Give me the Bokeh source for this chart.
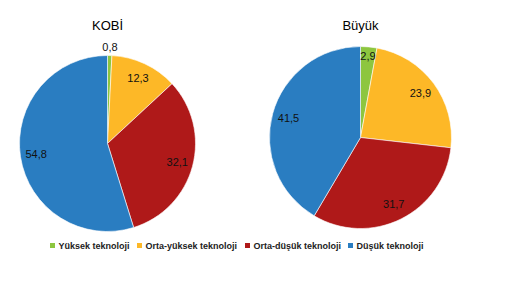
import math
from bokeh.plotting import figure
from bokeh.models import Range1d, ColumnDataSource
from bokeh.core.properties import value
from bokeh.embed import file_html
from bokeh.resources import INLINE

categories = ["Yüksek teknoloji", "Orta-yüksek teknoloji", "Orta-düşük teknoloji", "Düşük teknoloji"]
colors = ["#8DC63F", "#FDB827", "#AF1919", "#2A7DC1"]
kobi_values = [0.8, 12.3, 32.1, 54.8]
buyuk_values = [2.9, 23.9, 31.7, 41.5]
titles = ["KOBİ", "Büyük"]

W, H = 514, 285
FONT = "Liberation Sans"

p = figure(width=W, height=H, x_range=Range1d(0, W), y_range=Range1d(0, H),
           output_backend="svg", toolbar_location=None,
           x_axis_location=None, y_axis_location=None, min_border=0)
p.grid.visible = False
p.outline_line_color = None
p.background_fill_color = "white"

pies = [
    dict(vals=kobi_values, cx=107, cy=H - 143, r=88, title=titles[0], tx=107, ty=H - 25),
    dict(vals=buyuk_values, cx=360, cy=H - 137, r=91, title=titles[1], tx=360, ty=H - 25),
]

for pie in pies:
    vals = pie["vals"]
    total = sum(vals)
    starts, ends, lx, ly, lt = [], [], [], [], []
    cum = 0.0
    for v in vals:
        a0 = math.pi / 2 - 2 * math.pi * cum / total
        a1 = math.pi / 2 - 2 * math.pi * (cum + v) / total
        starts.append(a0)
        ends.append(a1)
        mid = (a0 + a1) / 2
        f = 1.1 if v < 1.5 else (0.9 if v < 5 else 0.82)
        lx.append(pie["cx"] + f * pie["r"] * math.cos(mid))
        ly.append(pie["cy"] + f * pie["r"] * math.sin(mid))
        lt.append(f"{v:.1f}".replace(".", ","))
        cum += v
    src = ColumnDataSource(dict(start=starts, end=ends, color=colors,
                                x=[pie["cx"]] * 4, y=[pie["cy"]] * 4))
    p.wedge(x="x", y="y", radius=pie["r"], start_angle="start", end_angle="end",
            direction="clock", fill_color="color", line_color="white", line_width=0.6,
            source=src)
    p.text(x=lx, y=ly, text=lt, text_align="center", text_baseline="middle",
           text_font=value(FONT), text_font_size="11px", text_color="#111111")
    p.text(x=[pie["tx"]], y=[pie["ty"]], text=[pie["title"]], text_align="center",
           text_baseline="middle", text_font=value(FONT), text_font_size="13px",
           text_color="#000000")

# legend
leg_x = [52, 139, 247, 350]
leg_y = H - 245
p.scatter(x=leg_x, y=[leg_y] * 4, marker="square", size=5, fill_color=colors,
          line_color=None)
p.text(x=[x + 6 for x in leg_x], y=[leg_y] * 4, text=categories, text_align="left",
       text_baseline="middle", text_font=value(FONT), text_font_size="9px",
       text_font_style="bold", text_color="#222222")

open("out.html", "w").write(file_html(p, INLINE))
